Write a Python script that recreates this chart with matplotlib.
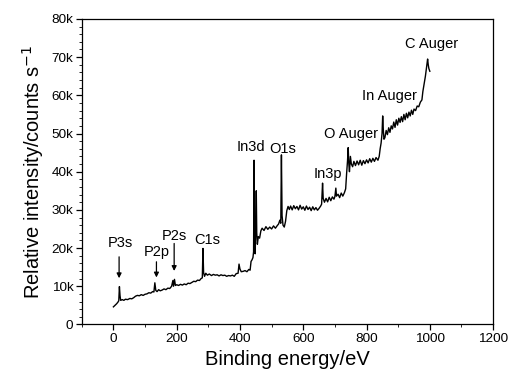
import matplotlib
matplotlib.use("Agg")
import matplotlib.pyplot as plt
from matplotlib.ticker import MultipleLocator, FuncFormatter

plt.rcParams['font.family'] = ['Liberation Sans', 'DejaVu Sans']

energy = [0, 5, 10, 14, 17, 19, 21, 23, 28, 33, 38, 45, 52, 58, 64, 70, 76, 82, 88, 94, 100,
          106, 112, 118, 124, 128, 131, 134, 138, 143, 148, 154, 160, 166, 172, 178, 184, 188, 190, 193, 196, 200,
          206, 212, 218, 224, 230, 236, 242, 248, 254, 260, 266, 272, 277, 281, 283, 285, 288, 292, 297,
          303, 310, 316, 322, 328, 334, 340, 346, 352, 358, 364, 370, 376, 382, 388, 394, 397, 400, 404, 410,
          416, 422, 428, 432, 435, 438, 441,
          443, 444.5, 446, 448, 450, 451.5, 453, 455, 458, 462, 466, 470, 476, 482, 488, 494, 500, 506, 512,
          518, 522, 526, 529, 531, 533, 536, 540, 544, 548, 552, 556, 560, 565, 570, 575, 580, 585, 590, 595,
          600, 605, 610, 615, 620, 625, 630, 635, 640, 645, 650, 655, 658, 661, 663, 667, 672, 677, 682, 687,
          692, 697, 700, 703, 705, 710, 715, 720, 725, 730, 734, 737, 740, 742, 744, 746, 749, 752, 756, 760,
          765, 770, 775, 780, 785, 790, 795, 800, 805, 810, 815, 820, 825, 830, 836, 840, 843, 846, 849, 851,
          853, 855, 858, 862, 866, 870, 874, 878, 882, 886, 890, 894, 898, 902, 906, 910, 914, 918, 922, 926,
          930, 934, 938, 942, 946, 950, 955, 960, 965, 970, 975, 978, 982, 986, 990, 993, 995, 997, 1000]

intensity_k = [4.6, 5.0, 5.4, 5.8, 6.2, 9.9, 7.5, 6.3, 6.5, 6.3, 6.6, 6.5, 6.8, 6.7, 7.0, 7.4, 7.6, 7.5, 7.8, 7.6, 7.9,
               8.0, 8.3, 8.2, 8.6, 8.5, 10.9, 8.9, 8.6, 9.1, 8.8, 9.0, 9.3, 9.1, 9.5, 9.4, 10.0, 11.5, 10.0, 11.8, 10.2, 10.4,
               10.2, 10.5, 10.3, 10.6, 10.4, 10.8, 10.7, 11.0, 11.3, 11.2, 11.6, 11.5, 12.0, 12.2, 19.9, 13.6, 12.6, 13.4, 12.9,
               13.2, 12.8, 13.1, 12.9, 13.0, 12.7, 13.0, 12.8, 12.9, 12.6, 12.8, 12.7, 12.9, 12.6, 13.3, 13.4, 15.8, 14.5, 13.8, 13.9,
               14.1, 13.8, 14.4, 14.2, 16.5, 16.9, 17.5,
               19.0, 43.0, 22.0, 18.5, 26.0, 35.0, 24.0, 21.0, 23.0, 22.6, 24.5, 25.2, 24.6, 25.6, 24.9, 25.5, 25.0, 25.8, 25.2,
               25.9, 26.3, 27.3, 26.5, 44.4, 28.5, 26.0, 25.5, 27.0, 29.8, 30.9, 30.1, 31.0, 30.0, 31.1, 30.3, 30.9, 30.0, 31.2, 30.2,
               30.8, 29.9, 31.0, 30.1, 30.7, 29.8, 30.8, 30.0, 30.6, 29.9, 30.4, 31.0, 31.5, 37.0, 33.0, 32.0, 33.0, 32.1, 33.3, 32.4,
               33.4, 32.8, 33.5, 35.7, 33.6, 34.1, 33.2, 34.4, 33.6, 34.5, 35.5, 39.5, 43.0, 46.3, 42.0, 40.0, 44.0, 42.0, 41.3, 42.7,
               41.6, 42.8, 41.8, 43.0, 41.7, 42.9, 42.1, 43.1, 42.3, 43.4, 42.5, 43.5, 42.7, 43.7, 43.0, 44.0, 46.0, 47.5, 50.0, 54.6,
               51.0, 48.5, 48.9, 50.8, 49.7, 51.5, 50.3, 52.0, 51.2, 53.0, 51.6, 53.6, 52.2, 54.0, 52.9, 54.4, 53.1, 55.0, 53.6, 55.3,
               54.1, 55.6, 54.6, 56.1, 55.0, 56.4, 56.0, 57.2, 57.0, 58.2, 58.8, 61.0, 63.0, 65.0, 67.5, 69.5, 68.0, 67.0, 66.3]

peak_labels = ["P3s", "P2p", "P2s", "C1s", "In3d", "O1s", "In3p", "O Auger", "In Auger", "C Auger"]
label_x = [23, 138, 192, 296, 436, 534, 679, 752, 871, 1005]
label_y_k = [20.3, 17.9, 22.1, 21.0, 45.5, 44.8, 38.4, 48.7, 58.8, 72.3]

arrow_x = [18, 136, 192]
arrow_top_k = [17.7, 16.4, 21.2]
arrow_tip_k = [12.1, 12.3, 14.0]

fig = plt.figure(figsize=(5.11, 3.79), dpi=100)
ax = fig.add_axes([0.16, 0.144, 0.805, 0.806])

ax.plot(energy, [v * 1000 for v in intensity_k], color='black', lw=1.0)

for t, x, y in zip(peak_labels, label_x, label_y_k):
    ax.text(x, y * 1000, t, ha='center', va='baseline', fontsize=10.5, color='black')

for x, y0, y1 in zip(arrow_x, arrow_top_k, arrow_tip_k):
    ax.annotate('', xy=(x, y1 * 1000), xytext=(x, y0 * 1000),
                arrowprops=dict(arrowstyle='-|>', lw=0.9, color='black', mutation_scale=7,
                                shrinkA=0, shrinkB=0))

ax.set_xlim(-100, 1200)
ax.set_ylim(0, 80000)
ax.xaxis.set_major_locator(MultipleLocator(200))
ax.xaxis.set_minor_locator(MultipleLocator(100))
ax.yaxis.set_major_locator(MultipleLocator(10000))
ax.yaxis.set_minor_locator(MultipleLocator(2000))
ax.yaxis.set_major_formatter(FuncFormatter(lambda v, p: '0' if v == 0 else f'{int(v / 1000)}k'))

ax.tick_params(axis='both', which='major', direction='out', length=4, width=0.9, labelsize=9.7, pad=2)
ax.tick_params(axis='both', which='minor', direction='out', length=2, width=0.6)

for s in ax.spines.values():
    s.set_linewidth(0.9)
    s.set_color('black')

ax.set_xlabel('Binding energy/eV', fontsize=14.5, labelpad=4)
ax.set_ylabel('Relative intensity/counts s$^{-1}$', fontsize=14.5, labelpad=4)

fig.savefig('out.png', dpi=100)
